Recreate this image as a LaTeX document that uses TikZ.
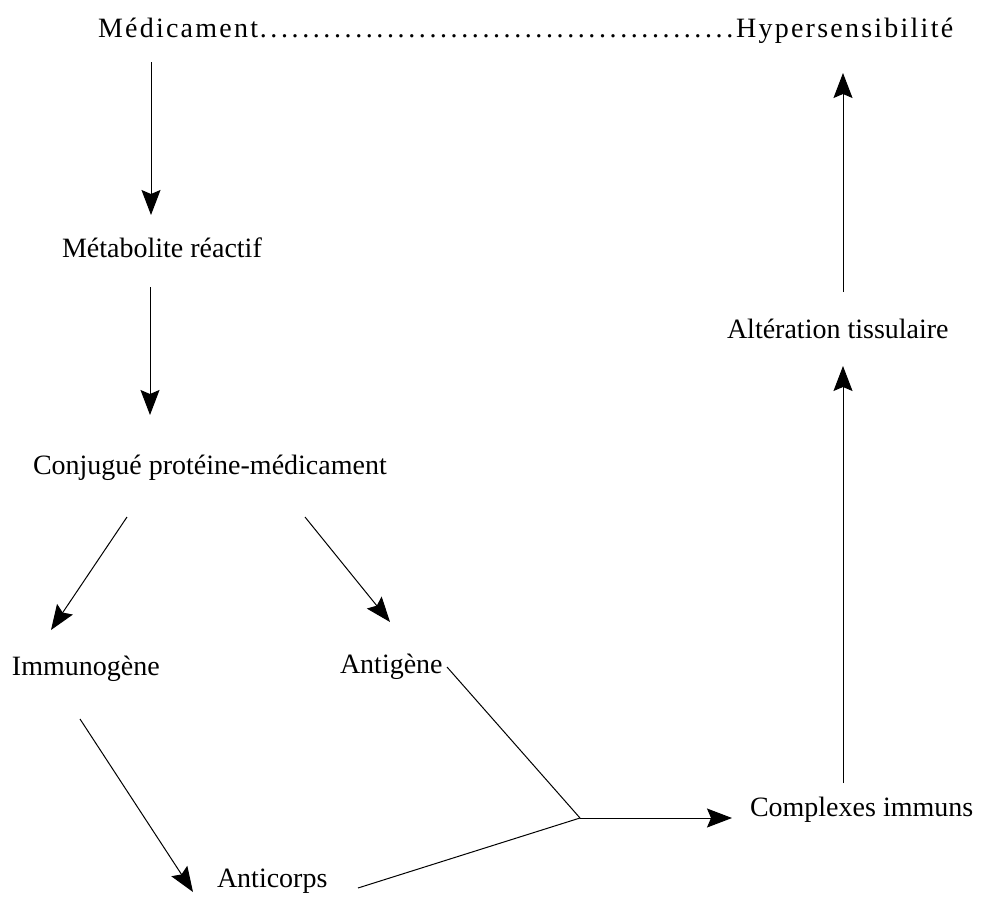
\documentclass[tikz,border=0pt]{standalone}
\usepackage{fontspec}
\setmainfont{Liberation Serif}
\newfontfamily\topfont[LetterSpace=8]{Liberation Serif}
\usetikzlibrary{arrows.meta}
\tikzset{
  lbl/.style={inner sep=0pt, outer sep=0pt, anchor=base west, font=\fontsize{28}{32}\selectfont},
  toplbl/.style={inner sep=0pt, outer sep=0pt, font=\topfont\fontsize{28}{32}\selectfont},
  conn/.style={line width=1pt, draw=black},
  arr/.style={conn, ->},
  >={Stealth[length=25pt,width=19pt,inset=4pt]}
}
\begin{document}
\begin{tikzpicture}[x=1pt,y=-1pt]
\useasboundingbox (0,0) rectangle (989,897);
\fill[white] (0,0) rectangle (989,897);
% texts
\node[toplbl, anchor=base west] (med) at (98,37) {Médicament};
\node[toplbl, anchor=base west] (dots) at (med.base east) {\makebox[478pt][l]{\leaders\hbox to 10.6pt{\hss.\hss}\hfill}};
\node[toplbl, anchor=base west] (hyp) at (dots.base east) {Hypersensibilité};
\node[lbl] (met) at (62,257) {Métabolite réactif};
\node[lbl] (conj) at (33,474) {Conjugué protéine-médicament};
\node[lbl] (immuno) at (12,675) {Immunogène};
\node[lbl] (antig) at (340,673) {Antigène};
\node[lbl] (antic) at (217,887) {Anticorps};
\node[lbl] (compl) at (750,816) {Complexes immuns};
\node[lbl] (alter) at (727,338) {Altération tissulaire};
% connector endpoints
\coordinate (a1) at (151,62);  \coordinate (a2) at (151,215);
\coordinate (b1) at (150,287); \coordinate (b2) at (150,415);
\coordinate (c1) at (127,517); \coordinate (c2) at (51,630);
\coordinate (d1) at (305,517); \coordinate (d2) at (390,622);
\coordinate (e1) at (80,719);  \coordinate (e2) at (193,892);
\coordinate (g1) at (447,667);
\coordinate (h1) at (358,888);
\coordinate (J) at (580,818);
\coordinate (k2) at (732,818);
\coordinate (f1) at (843,783); \coordinate (f2) at (843,366);
\coordinate (t1) at (843,292); \coordinate (t2) at (843,73);
% connectors
\draw[arr] (a1) -- (a2);
\draw[arr] (b1) -- (b2);
\draw[arr] (c1) -- (c2);
\draw[arr] (d1) -- (d2);
\draw[arr] (e1) -- (e2);
\draw[conn] (g1) -- (J);
\draw[conn] (h1) -- (J);
\draw[arr] (J) -- (k2);
\draw[arr] (f1) -- (f2);
\draw[arr] (t1) -- (t2);
\end{tikzpicture}
\end{document}
